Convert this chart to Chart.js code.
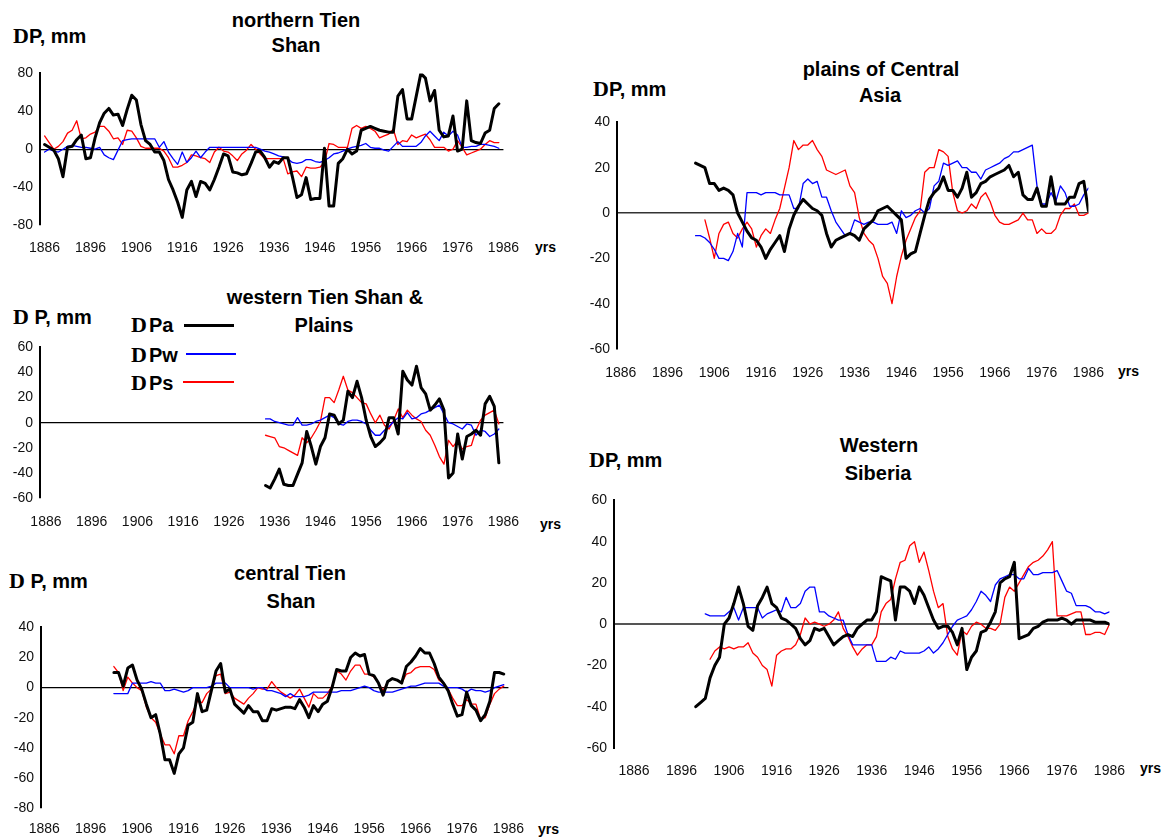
<!DOCTYPE html>
<html>
<head>
<meta charset="utf-8">
<script src="https://cdn.jsdelivr.net/npm/chart.js@4/dist/chart.umd.min.js"></script>
<style>
  html, body { margin: 0; padding: 0; background: #fff; }
  #page { position: relative; width: 1164px; height: 838px; overflow: hidden; background: #fff; }
  canvas { position: absolute; z-index: 1; }
  .t { position: absolute; font: bold 20px "Liberation Sans", Arial, sans-serif; line-height: 20px;
       white-space: nowrap; transform: translateX(-50%); color: #000; }
  .dp { position: absolute; font: bold 20px "Liberation Sans", Arial, sans-serif; line-height: 20px;
        white-space: nowrap; color: #000; }
  .D { font-family: "Liberation Serif", "Times New Roman", serif; font-weight: bold; font-size: 22px; }
  .yrs { position: absolute; font: bold 14px "Liberation Sans", Arial, sans-serif; line-height: 14px; color: #000; }
  .key { position: absolute; z-index: 5; }
</style>
</head>
<body>
<div id="page">
  <!-- panel titles -->
  <div class="t" style="left:296px; top:10px">northern Tien</div>
  <div class="t" style="left:296px; top:35px">Shan</div>
  <div class="t" style="left:325px; top:287px">western Tien Shan &amp;</div>
  <div class="t" style="left:324px; top:315px">Plains</div>
  <div class="t" style="left:290px; top:563px">central Tien</div>
  <div class="t" style="left:291px; top:591px">Shan</div>
  <div class="t" style="left:881px; top:59px">plains of Central</div>
  <div class="t" style="left:880px; top:85px">Asia</div>
  <div class="t" style="left:879px; top:435px">Western</div>
  <div class="t" style="left:878px; top:463px">Siberia</div>

  <!-- y-axis captions -->
  <div class="dp" style="left:13px; top:26px"><span class="D">D</span>P, mm</div>
  <div class="dp" style="left:13px; top:307px"><span class="D">D</span> P, mm</div>
  <div class="dp" style="left:9px; top:571px"><span class="D">D</span> P, mm</div>
  <div class="dp" style="left:593px; top:79px"><span class="D">D</span>P, mm</div>
  <div class="dp" style="left:589px; top:450px"><span class="D">D</span>P, mm</div>

  <!-- x-axis captions -->
  <div class="yrs" style="left:535px; top:240px">yrs</div>
  <div class="yrs" style="left:540px; top:517px">yrs</div>
  <div class="yrs" style="left:538px; top:822px">yrs</div>
  <div class="yrs" style="left:1118px; top:364px">yrs</div>
  <div class="yrs" style="left:1140px; top:761px">yrs</div>

  <!-- series key -->
  <div class="dp" style="left:131px; top:315px"><span class="D" style="margin-right:2px">D</span>Pa</div>
  <div class="dp" style="left:131px; top:345px"><span class="D" style="margin-right:2px">D</span>Pw</div>
  <div class="dp" style="left:131px; top:373px"><span class="D" style="margin-right:2px">D</span>Ps</div>
  <div class="key" style="left:184px; top:324px; width:50px; height:3px; background-color:rgb(0,0,0)"></div>
  <div class="key" style="left:186px; top:353px; width:50px; height:2px; background-color:rgb(0,0,255)"></div>
  <div class="key" style="left:183px; top:381px; width:51px; height:2px; background-color:rgb(255,0,0)"></div>
</div>

<script>
// Year labels along every horizontal axis
const xTickYears = [1886, 1896, 1906, 1916, 1926, 1936, 1946, 1956, 1966, 1976, 1986];

// northern Tien Shan, 1886-1985
const ntsStart = 1886;
const ntsPa = [5,2,-1,-10,-29,2,3,10,15,-10, -9,12,28,38,43,36,37,25,42,57,
  52,26,9,5,-3,-3,-12,-32,-43,-56, -72,-43,-34,-50,-34,-36,-43,-32,-19,-5,
  -7,-24,-25,-27,-26,-15,-3,-2,-9,-19, -13,-15,-9,-9,-29,-51,-48,-30,-53,-52,
  -52,1,-60,-60,-15,-10,0,-5,-2,20, 22,24,22,20,19,18,18,56,63,32,
  32,56,80,75,51,62,20,13,14,35, -2,0,51,9,7,6,17,20,43,48];
const ntsPw = [-3,0,-2,-3,0,3,4,3,2,2, 1,0,2,-6,-9,-11,-1,9,10,11,
  11,11,11,11,11,2,8,-3,-10,-16, -3,-14,-9,-2,-9,-3,2,2,2,2,
  2,2,2,2,2,2,2,0,-2,-3, -5,-7,-8,-10,-14,-15,-14,-11,-11,-13,
  -14,-12,-9,-5,-4,-2,0,2,3,4, 6,2,1,1,-1,-2,3,8,3,3,
  3,3,7,14,19,14,9,18,14,19, 15,2,2,3,3,5,5,4,3,1];
const ntsPs = [14,7,0,3,8,17,20,30,11,12, 16,18,24,24,19,11,12,5,20,19,
  12,3,1,1,1,1,-2,-9,-19,-19, -17,-14,-6,-7,-9,-10,-14,-3,2,-2,
  -3,-7,-12,-5,-1,5,0,-5,-10,-10, -10,-10,-10,-26,-24,-23,-29,-19,-20,-20,
  -19,-14,6,5,2,2,2,22,25,22, 24,22,19,12,14,16,21,5,9,8,
  15,12,14,16,10,2,2,2,-2,0, 9,2,-6,-4,-2,0,5,9,7,7];

// western Tien Shan & Plains, 1934-1985
const wtsStart = 1934;
const wtsPa = [-50,-52,-45,-37,-49,-50,-50,-41,-32,-7, -19,-33,-19,-12,7,6,-1,2,25,20,
  33,20,2,-11,-19,-16,-12,4,4,-9, 41,34,30,45,28,23,10,14,19,10,
  -44,-40,-9,-29,-11,-9,-6,-10,15,21, 13,-32];
const wtsPw = [3,3,1,0,-1,-2,-2,4,-2,-2, -1,1,2,4,6,4,-1,-2,1,2,
  2,1,-1,-6,-10,-10,-6,-3,1,4, 3,8,3,4,7,8,10,12,14,7,
  0,-1,-3,-5,-1,-2,-10,-6,-7,-11, -9,-5];
const wtsPs = [-10,-11,-12,-19,-20,-22,-24,-26,-12,-16, -12,-6,1,20,20,16,26,37,26,24,
  20,16,15,7,0,6,-2,-5,2,11, 4,10,6,3,1,-6,-10,-18,-27,-33,
  -14,-19,-14,-21,-19,-18,-6,2,6,8, 10,-1];

// central Tien Shan, 1901-1985
const ctsStart = 1901;
const ctsPa = [10,10,1,13,15,5,-1,-11,-20,-18, -31,-48,-48,-57,-44,-40,-25,-23,-4,-16,
  -15,-2,11,16,-3,-1,-11,-14,-17,-12, -16,-16,-22,-22,-14,-15,-14,-13,-13,-14,
  -8,-13,-20,-12,-16,-11,-9,0,12,11, 11,20,23,21,22,9,8,3,-5,4,
  6,5,3,14,17,21,26,23,23,16, 7,3,-2,-11,-19,-18,-3,-12,-15,-22,
  -18,-9,10,10,9];
const ctsPw = [-4,-4,-4,-4,3,3,3,3,4,3, 3,-2,-2,-1,-2,-3,-2,0,0,0,
  0,1,3,3,3,0,0,0,0,0, -1,0,0,-2,-2,-3,-4,-6,-4,-6,
  -6,-6,-5,-3,-3,-3,-3,-3,-3,-2, -2,-2,-1,0,1,0,-2,-3,-3,-3,
  -3,-2,-1,0,1,1,2,3,3,3, 3,1,0,0,0,-1,-3,-1,-2,-2,
  -3,-2,0,1,2];
const ctsPs = [14,10,-2,7,3,0,-2,-13,-20,-23, -31,-38,-38,-44,-32,-32,-22,-16,-9,-10,
  -4,-1,8,9,-4,-3,-7,-9,-11,-7, -4,0,-1,-1,4,0,-3,-5,-7,-5,
  -1,-7,-13,-4,-7,-7,-4,1,11,9, 5,11,15,15,9,9,7,3,-2,4,
  6,5,3,9,10,13,14,14,14,12, 5,3,-1,-7,-12,-12,-8,-11,-11,-21,
  -20,-11,-4,-1,1];

// plains of Central Asia: DPa and DPw 1902-1986, DPs 1904-1986
const pcaStart = 1902;
const pcaPsStart = 1904;
const pcaPa = [22,21,20,13,13,10,11,10,8,0, -4,-8,-11,-12,-15,-20,-16,-13,-10,-17,
  -7,-1,3,6,4,2,1,-1,-9,-15, -12,-11,-10,-9,-10,-12,-7,-5,-3,1,
  2,3,1,-1,-3,-20,-18,-17,-9,-1, 6,9,11,16,10,10,7,11,18,7,
  9,13,14,16,17,18,19,21,16,18, 8,6,6,11,3,3,16,4,4,4,
  7,7,13,14,1];
const pcaPw = [-10,-10,-11,-13,-16,-20,-20,-21,-17,-9, -15,9,9,9,8,9,9,9,8,8,
  8,2,2,13,15,13,14,7,7,1, -4,-7,-10,-9,-3,-4,-5,-4,-4,-5,
  -5,-5,-4,-9,1,-2,-1,1,2,0, 2,12,14,22,21,22,23,20,20,18,
  18,15,19,20,21,22,24,25,27,27, 28,29,30,12,4,4,9,5,12,9,
  3,3,4,8,11];
const pcaPs = [-3,-11,-20,-9,-5,-4,-9,-11,-7,-4, -7,-15,-10,-7,-9,-3,2,11,20,32,
  28,30,30,32,28,25,19,18,17,18, 19,12,9,-2,-9,-12,-14,-20,-28,-31,
  -40,-28,-19,-12,-7,-2,1,18,20,20, 28,27,25,9,1,0,1,4,2,7,
  9,5,-1,-4,-5,-5,-4,-3,0,-3, -3,-9,-7,-9,-9,-7,-1,2,2,4,
  -1,-1,0];

// Western Siberia: DPa 1899-1986, DPw 1901-1986, DPs 1902-1986
const wsPaStart = 1899;
const wsPwStart = 1901;
const wsPsStart = 1902;
const wsPa = [-40,-38,-36,-26,-20,-16,0,3,10,18, 10,-1,-3,9,13,18,10,8,3,2,
  0,-2,-7,-10,-8,-2,-3,-2,-6,-10, -8,-6,-5,-6,-2,0,2,2,6,23,
  22,21,2,18,18,16,10,18,14,8, 2,-2,-1,-1,-4,-10,-2,-22,-16,-13,
  -4,-3,1,6,20,22,23,30,-7,-6, -5,-2,-1,1,2,2,2,3,2,0,
  2,2,2,2,1,1,1,0];
const wsPw = [5,4,4,4,4,6,8,2,8,8, 8,8,3,5,6,7,6,13,8,8,
  10,16,18,18,6,6,4,3,2,2, -5,-10,-10,-10,-10,-10,-18,-18,-18,-16,
  -17,-13,-14,-14,-14,-14,-13,-11,-14,-12, -9,-5,-1,2,3,4,7,11,16,14,
  11,19,22,23,24,24,22,22,27,24, 24,25,25,25,26,21,16,15,9,9,
  9,8,6,6,5,6];
const wsPs = [-17,-13,-11,-12,-11,-12,-11,-11,-9,-14, -16,-20,-22,-30,-15,-13,-12,-12,-10,-5,
  3,0,1,0,-1,0,2,6,-2,-6, -11,-15,-12,-10,-10,-6,6,10,12,22,
  30,31,38,40,30,35,26,16,8,10, -6,-12,-15,-3,-5,-1,1,0,-2,-2,
  -3,0,13,18,16,20,24,28,30,31, 33,36,40,4,4,4,5,6,6,-5,
  -5,-4,-4,-5,0];

// Value ticks on each vertical axis
const ntsYTicks = [-80, -40, 0, 40, 80];
const wtsYTicks = [-60, -40, -20, 0, 20, 40, 60];
const ctsYTicks = [-80, -60, -40, -20, 0, 20, 40];
const pcaYTicks = [-60, -40, -20, 0, 20, 40];
const wsYTicks = [-60, -40, -20, 0, 20, 40, 60];

// pair consecutive years with values
function series(start, values) {
  return values.map((v, i) => ({ x: start + i, y: v }));
}

const FONT = '"Liberation Sans", Arial, sans-serif';
const Y_AXIS_W = 46, PAD_TOP = 12, PAD_RIGHT = 26, X_AXIS_H = 40;

function makePanel(p) {
  const page = document.getElementById('page');
  const canvas = document.createElement('canvas');
  const w = (p.right - p.left) + Y_AXIS_W + PAD_RIGHT;
  const h = (p.bottom - p.top) + PAD_TOP + X_AXIS_H;
  canvas.width = w; canvas.height = h;
  canvas.style.left = (p.left - Y_AXIS_W) + 'px';
  canvas.style.top = (p.top - PAD_TOP) + 'px';
  canvas.style.width = w + 'px'; canvas.style.height = h + 'px';
  page.appendChild(canvas);

  const ds = (data, color, width) => ({
    data, borderColor: color, borderWidth: width, pointRadius: 0,
    tension: 0, borderJoinStyle: 'round', borderCapStyle: 'round', fill: false
  });

  new Chart(canvas, {
    type: 'line',
    data: { datasets: [
      ds(p.pa, '#000000', 3),
      ds(p.pw, '#0000ff', 1.3),
      ds(p.ps, '#ff0000', 1.3)
    ] },
    options: {
      responsive: false, animation: false, devicePixelRatio: 1,
      layout: { padding: { top: PAD_TOP, right: PAD_RIGHT, left: 0, bottom: 0 } },
      plugins: { legend: { display: false }, tooltip: { enabled: false } },
      scales: {
        x: {
          type: 'linear', min: p.xMin, max: 1986,
          afterBuildTicks: s => { s.ticks = xTickYears.map(v => ({ value: v })); },
          afterFit: s => { s.height = X_AXIS_H; },
          grid: { display: false, drawTicks: false },
          border: { display: false },
          ticks: { autoSkip: false, maxRotation: 0, minRotation: 0, padding: p.xPad,
                   color: '#111', font: { family: FONT, size: 14 },
                   callback: v => String(v) }
        },
        y: {
          type: 'linear', min: p.yTicks[0], max: p.yTicks[p.yTicks.length - 1],
          afterBuildTicks: s => { s.ticks = p.yTicks.map(v => ({ value: v })); },
          afterFit: s => { s.width = Y_AXIS_W; },
          grid: {
            drawTicks: false,
            color: c => (c.tick && c.tick.value === 0) ? p.zeroColor : 'rgba(0,0,0,0)',
            lineWidth: p.zeroWidth
          },
          border: { display: true, color: '#000', width: 2 },
          ticks: { padding: 7, color: '#111', font: { family: FONT, size: 14 },
                   callback: v => String(v) }
        }
      }
    }
  });
}

makePanel({ left: 40, right: 508, top: 70, bottom: 225, xMin: 1885.0, xPad: 15,
  yTicks: ntsYTicks, zeroColor: '#000', zeroWidth: 1.2,
  pa: series(ntsStart, ntsPa), pw: series(ntsStart, ntsPw), ps: series(ntsStart, ntsPs) });

makePanel({ left: 40, right: 509, top: 344, bottom: 498, xMin: 1884.7, xPad: 16,
  yTicks: wtsYTicks, zeroColor: '#000', zeroWidth: 1.2,
  pa: series(wtsStart, wtsPa), pw: series(wtsStart, wtsPw), ps: series(wtsStart, wtsPs) });

makePanel({ left: 41, right: 511, top: 624, bottom: 808, xMin: 1885.3, xPad: 13,
  yTicks: ctsYTicks, zeroColor: '#000', zeroWidth: 1.2,
  pa: series(ctsStart, ctsPa), pw: series(ctsStart, ctsPw), ps: series(ctsStart, ctsPs) });

makePanel({ left: 617, right: 1094, top: 119, bottom: 349, xMin: 1885.2, xPad: 16,
  yTicks: pcaYTicks, zeroColor: '#333', zeroWidth: 1.5,
  pa: series(pcaStart, pcaPa), pw: series(pcaStart, pcaPw), ps: series(pcaPsStart, pcaPs) });

makePanel({ left: 614, right: 1114, top: 497, bottom: 748, xMin: 1881.8, xPad: 15,
  yTicks: wsYTicks, zeroColor: '#555', zeroWidth: 2,
  pa: series(wsPaStart, wsPa), pw: series(wsPwStart, wsPw), ps: series(wsPsStart, wsPs) });
</script>
</body>
</html>
